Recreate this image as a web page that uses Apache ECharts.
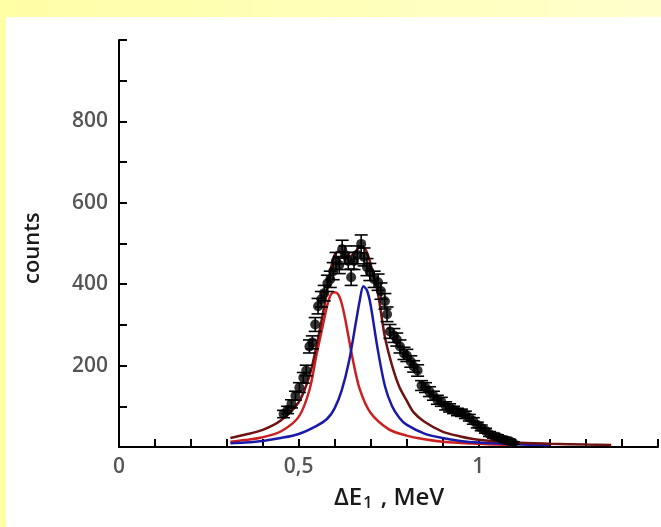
<!DOCTYPE html>
<html><head><meta charset="utf-8">
<script src="https://cdn.jsdelivr.net/npm/echarts@6/dist/echarts.min.js"></script>
<style>html,body{margin:0;padding:0;background:#fff}#c{width:661px;height:527px}</style>
</head><body><div id="c"></div>
<script>
// measured data points (energy MeV, counts, error)
const pointX = [0.458,0.469,0.480,0.491,0.502,0.513,0.521,0.530,0.538,0.546,0.554,0.563,0.571,0.580,0.588,0.596,0.604,0.613,0.621,0.629,0.638,0.646,0.654,0.663,0.674,0.682,0.690,0.698,0.710,0.721,0.729,0.740,0.746,0.754,0.765,0.773,0.782,0.793,0.801,0.812,0.820,0.831,0.842,0.853,0.864,0.875,0.886,0.897,0.909,0.920,0.931,0.942,0.953,0.964,0.975,0.986,0.997,1.008,1.020,1.031,1.042,1.053,1.064,1.075,1.086,1.097];
const pointY = [81,91,106,126,146,170,188,247,257,301,346,363,378,402,412,432,457,447,486,472,457,417,457,472,499,467,442,430,412,405,383,358,326,284,274,264,247,230,225,210,198,188,151,146,136,126,116,111,101,96,91,86,84,79,72,64,54,47,40,32,27,25,20,17,15,10];
const pointErr = [9,9,10,11,12,13,13,16,16,17,19,19,19,20,20,21,21,21,22,22,21,20,21,22,22,22,21,21,20,20,20,19,18,17,17,16,16,15,15,14,14,14,12,12,12,11,11,11,10,10,9,9,9,9,8,8,7,7,6,6,5,5,5,4,4,3];
// fitted curves
const redX = [0.31,0.35,0.40,0.45,0.50,0.53,0.55,0.57,0.58,0.59,0.60,0.61,0.62,0.63,0.65,0.67,0.70,0.75,0.80,0.85,0.90,0.95,1.00,1.05,1.10];
const redY = [13,17,24,38,74,140,228,310,350,375,380,375,352,312,218,142,84,44,28,19,13,10,8,6,5];
const blueX = [0.31,0.35,0.40,0.45,0.50,0.55,0.58,0.60,0.62,0.64,0.66,0.67,0.68,0.69,0.70,0.72,0.74,0.76,0.78,0.80,0.85,0.90,0.95,1.00,1.10,1.20];
const blueY = [9,11,15,22,32,52,70,95,140,210,310,360,395,385,350,240,150,100,72,55,33,22,15,11,7,5];
const sumX = [0.31,0.35,0.40,0.45,0.50,0.53,0.55,0.57,0.58,0.59,0.60,0.61,0.62,0.63,0.64,0.65,0.66,0.67,0.68,0.69,0.70,0.72,0.74,0.76,0.78,0.80,0.82,0.85,0.90,0.95,1.00,1.10,1.20,1.30,1.37];
const sumY = [22,30,42,65,110,175,250,340,390,440,472,480,478,470,468,472,482,490,490,478,450,380,270,200,148,115,85,62,38,26,18,11,8,6,5];
// axis tick labels
const xTickLabels = {'0':'0','0.5':'0,5','1':'1'};
const yTickLabels = [200,400,600,800];

const zip = (xs, ys) => xs.map((x, i) => [x, ys[i]]);
const chart = echarts.init(document.getElementById('c'));
const axisColor = '#000';
const labelFont = {color:'#555', fontSize:21, fontWeight:600, fontFamily:'Open Sans'};
chart.setOption({
  animation:false,
  backgroundColor:'#fff',
  graphic:[
    {type:'rect', z:-10, shape:{x:0,y:0,width:661,height:527},
     style:{fill:new echarts.graphic.LinearGradient(0,0,1,0,[{offset:0,color:'#ffffa6'},{offset:1,color:'#ffffcc'}])}},
    {type:'rect', z:-9, shape:{x:6,y:17,width:655,height:510}, style:{fill:'#fff'}},
    {type:'text', left:334, top:486, z:10,
     style:{text:'{a|ΔE}{s|1}{a| , MeV}', rich:{a:{fontSize:24,fontWeight:600,fill:'#1a1a1a',fontFamily:'Open Sans'},s:{fontSize:16,fontWeight:600,fill:'#1a1a1a',fontFamily:'Open Sans',verticalAlign:'bottom',padding:[10,2,0,1]}}}},
    {type:'text', x:22, y:284, rotation:Math.PI/2, z:10,
     style:{text:'counts', fontSize:22, fontWeight:600, fill:'#1a1a1a', fontFamily:'Open Sans'}}
  ],
  grid:{left:119, right:0, top:40, bottom:80, containLabel:false},
  xAxis:{type:'value', min:0, max:1.5, interval:0.1,
    axisLine:{lineStyle:{color:axisColor,width:2}},
    axisTick:{inside:true,length:8,lineStyle:{color:axisColor,width:2}},
    splitLine:{show:false},
    axisLabel:Object.assign({margin:10, showMaxLabel:true, formatter:v => xTickLabels[String(Math.round(v*10)/10)] || ''}, labelFont)},
  yAxis:{type:'value', min:0, max:1000, interval:100,
    axisLine:{lineStyle:{color:axisColor,width:2}},
    axisTick:{inside:true,length:8,lineStyle:{color:axisColor,width:2}},
    splitLine:{show:false},
    axisLabel:Object.assign({margin:11, formatter:v => yTickLabels.includes(Math.round(v)) ? String(Math.round(v)) : ''}, labelFont)},
  series:[
    {type:'line', data:zip(redX,redY), smooth:0.3, showSymbol:false, lineStyle:{color:'#cc2020',width:2.5}, z:3},
    {type:'line', data:zip(blueX,blueY), smooth:0.3, showSymbol:false, lineStyle:{color:'#1a1aa8',width:2.5}, z:3},
    {type:'line', data:zip(sumX,sumY), smooth:0.3, showSymbol:false, lineStyle:{color:'#6e1212',width:2.5}, z:3},
    {type:'custom', z:5, data:pointX.map((x,i)=>[x,pointY[i],pointErr[i]]),
     renderItem:(params, api) => {
       const x = api.value(0), y = api.value(1), e = api.value(2);
       const top = api.coord([x, y+e]), bot = api.coord([x, y-e]);
       const hw = 6.5;
       const st = {stroke:'#000', lineWidth:1.6};
       return {type:'group', children:[
         {type:'line', shape:{x1:top[0],y1:top[1],x2:bot[0],y2:bot[1]}, style:st},
         {type:'line', shape:{x1:top[0]-hw,y1:top[1],x2:top[0]+hw,y2:top[1]}, style:st},
         {type:'line', shape:{x1:bot[0]-hw,y1:bot[1],x2:bot[0]+hw,y2:bot[1]}, style:st}
       ]};
     }},
    {type:'scatter', z:6, data:zip(pointX,pointY), symbol:'circle', symbolSize:10, itemStyle:{color:'#000'}}
  ]
});
</script></body></html>
